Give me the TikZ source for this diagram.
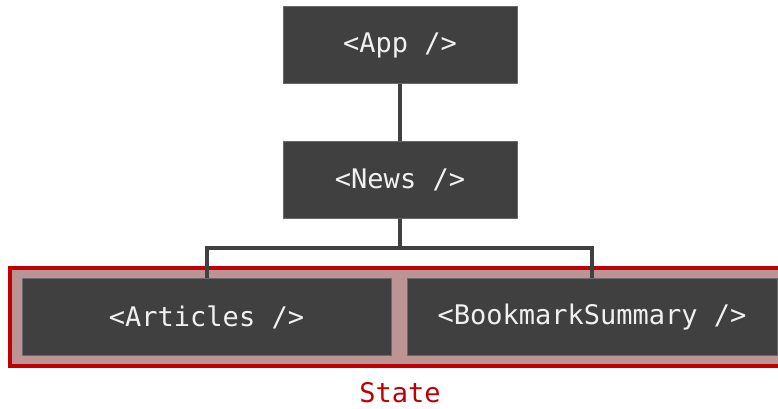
\documentclass[tikz,border=0pt]{standalone}
\usepackage{fontspec}
\setmonofont{DejaVu Sans Mono}
\usetikzlibrary{positioning,fit,backgrounds}
\definecolor{boxgray}{HTML}{404040}
\definecolor{boxedge}{HTML}{6A6A6A}
\definecolor{statered}{HTML}{C00000}
\definecolor{statepink}{HTML}{BD9495}

\begin{document}
\begin{tikzpicture}[x=1pt, y=-1pt,
  font=\ttfamily\fontsize{27}{31}\selectfont,
  comp/.style={draw=boxedge, line width=0.8pt, fill=boxgray, text=white!94!black,
    minimum height=77pt, inner sep=0pt},
  link/.style={draw=boxgray, line width=4pt}]
\useasboundingbox (0,0) rectangle (778,408);
\clip (0,0) rectangle (778,408);
\node[comp, minimum width=234pt] (app) at (400,45) {<App />};
\node[comp, minimum width=234pt, below=57pt of app] (news) {<News />};
\node[comp, minimum width=369pt] (articles) at (206.5,317) {<Articles />};
\node[comp, minimum width=370pt] (bookmarks) at (592,317) {<BookmarkSummary />};
% state container round the leaf components
\begin{scope}[on background layer]
\node[draw=statered, fill=statepink, line width=4pt, inner xsep=12pt, inner ysep=10.5pt,
  fit=(articles)(bookmarks)] (state) {};
\end{scope}
\node[text=statered] (statelabel) at (400,393) {State};
\draw[link] (app) -- (news);
\draw[link] (news.south) -- ++(0,29) coordinate (split) -| (articles.north);
\draw[link] (split) -| (bookmarks.north);
\end{tikzpicture}
\end{document}
